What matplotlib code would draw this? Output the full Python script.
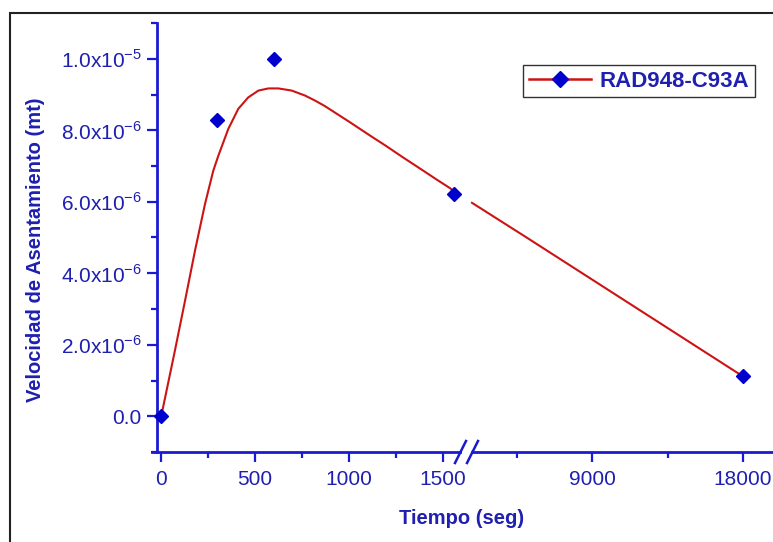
import matplotlib.pyplot as plt
import numpy as np
from matplotlib.lines import Line2D
from matplotlib.patches import Rectangle

plt.rcParams['font.family'] = ['Liberation Sans', 'DejaVu Sans']
plt.rcParams['mathtext.fontset'] = 'custom'
plt.rcParams['mathtext.rm'] = 'Liberation Sans'

"""
measured points
"""
t_pts = [0, 300, 600, 1560, 18000]
v_pts = [0.0, 8.3e-6, 1.0e-5, 6.23e-6, 1.12e-6]

"""
fitted curve, read off the figure (left and right of the break)
"""
t_fit_a = [0, 4, 74, 128, 181, 234, 278, 305, 358, 411, 464, 518, 571, 624, 695,
           766, 819, 870, 935, 1000, 1112, 1200, 1287, 1380, 1466, 1537, 1560]
v_fit_a = [0.0, 0.075e-6, 1.84e-6, 3.24e-6, 4.64e-6, 5.94e-6, 6.87e-6, 7.29e-6,
           8.04e-6, 8.60e-6, 8.92e-6, 9.11e-6, 9.17e-6, 9.17e-6, 9.11e-6, 8.97e-6,
           8.83e-6, 8.68e-6, 8.46e-6, 8.24e-6, 7.85e-6, 7.55e-6, 7.24e-6, 6.92e-6,
           6.62e-6, 6.38e-6, 6.28e-6]
t_fit_b = [1800, 5000, 8000, 9000, 13500, 18000]
v_fit_b = [5.97e-6, 5.02e-6, 4.12e-6, 3.82e-6, 2.47e-6, 1.12e-6]

yticks = [0.0, 2e-6, 4e-6, 6e-6, 8e-6, 1e-5]
ytick_labels = ['0.0', r'2.0x10$^{-6}$', r'4.0x10$^{-6}$', r'6.0x10$^{-6}$',
                r'8.0x10$^{-6}$', r'1.0x10$^{-5}$']
xticks_a = [0, 500, 1000, 1500]
xticks_b = [9000, 18000]

spine_col = '#1a1ad0'
text_col = '#1f1fb0'
mark_col = '#0000cd'
line_col = '#cc1414'

W, H = 773, 542
fig = plt.figure(figsize=(W / 100, H / 100), dpi=100)

bot = 1 - 452 / H
hgt = (452 - 23) / H
ax1 = fig.add_axes([152 / W, bot, (460 - 152) / W, hgt])
ax2 = fig.add_axes([472 / W, bot, (W - 472) / W + 0.001, hgt], sharey=ax1)

for ax in (ax1, ax2):
    ax.set_facecolor('none')
    ax.spines['top'].set_visible(False)
    ax.spines['right'].set_visible(False)
    ax.spines['bottom'].set_color(spine_col)
    ax.spines['bottom'].set_linewidth(2)
    ax.tick_params(axis='x', which='major', direction='out', length=7, width=1.6,
                   color=spine_col, labelcolor=text_col, labelsize=15, pad=6)
    ax.tick_params(axis='x', which='minor', direction='out', length=4, width=1.6,
                   color=spine_col)

ax1.spines['left'].set_color(spine_col)
ax1.spines['left'].set_linewidth(2)
ax1.spines['left'].set_position(('data', -21))
ax2.spines['left'].set_visible(False)

ax1.set_xlim(-48, 1590)
ax2.set_xlim(1800, 19860)
ax1.set_ylim(-1e-6, 1.1e-5)

ax1.set_xticks(xticks_a)
ax1.set_xticks([250, 750, 1250], minor=True)
ax2.set_xticks(xticks_b)
ax2.set_xticks([4500, 13500], minor=True)

ax1.set_yticks(yticks)
ax1.set_yticklabels(ytick_labels)
ax1.set_yticks([-1e-6, 1e-6, 3e-6, 5e-6, 7e-6, 9e-6, 1.1e-5], minor=True)
ax1.tick_params(axis='y', which='major', direction='out', length=7, width=1.6,
                color=spine_col, labelcolor=text_col, labelsize=15, pad=4)
ax1.tick_params(axis='y', which='minor', direction='out', length=4, width=1.6,
                color=spine_col)
ax2.tick_params(axis='y', which='both', left=False, labelleft=False)

# curve and points
ax1.plot(t_fit_a, v_fit_a, color=line_col, lw=1.5, zorder=2, clip_on=False)
ax2.plot(t_fit_b, v_fit_b, color=line_col, lw=1.5, zorder=2, clip_on=False)

pts_a = [(t, v) for t, v in zip(t_pts, v_pts) if t < 1600]
pts_b = [(t, v) for t, v in zip(t_pts, v_pts) if t >= 1600]
ax1.plot([p[0] for p in pts_a], [p[1] for p in pts_a], ls='none', marker='D',
         ms=7.5, color=mark_col, zorder=3, clip_on=False)
ax2.plot([p[0] for p in pts_b], [p[1] for p in pts_b], ls='none', marker='D',
         ms=7.5, color=mark_col, zorder=3, clip_on=False)

# axis break marks
for xc in (460, 472):
    fig.add_artist(Line2D([(xc - 5) / W, (xc + 6) / W], [1 - 463 / H, 1 - 441 / H],
                          color=spine_col, lw=1.8, transform=fig.transFigure))

# labels
fig.text(36 / W, 1 - 250 / H, 'Velocidad de Asentamiento (mt)', rotation=90,
         ha='center', va='center', fontsize=14.5, fontweight='bold', color=text_col)
fig.text(462 / W, 1 - 518 / H, 'Tiempo (seg)', ha='center', va='center',
         fontsize=14.5, fontweight='bold', color=text_col)

# legend
handle = Line2D([], [], color=line_col, lw=1.8, marker='D', ms=8,
                mfc=mark_col, mec=mark_col)
leg = fig.legend([handle], ['RAD948-C93A'], loc='upper right',
                 bbox_to_anchor=(755 / W, 1 - 65 / H), borderaxespad=0,
                 fancybox=False, framealpha=1, edgecolor='#333333',
                 handlelength=2.8, handletextpad=0.4, borderpad=0.25,
                 prop={'size': 16, 'weight': 'bold'})
leg.get_frame().set_linewidth(1.0)
for txt in leg.get_texts():
    txt.set_color(text_col)

# outer frame
fig.add_artist(Rectangle((10 / W, -0.1), 1.2, 1 - 12.5 / H + 0.1, fill=False,
                         edgecolor='#222222', lw=1.5, transform=fig.transFigure,
                         clip_on=False))

fig.savefig('out.png', dpi=100)
